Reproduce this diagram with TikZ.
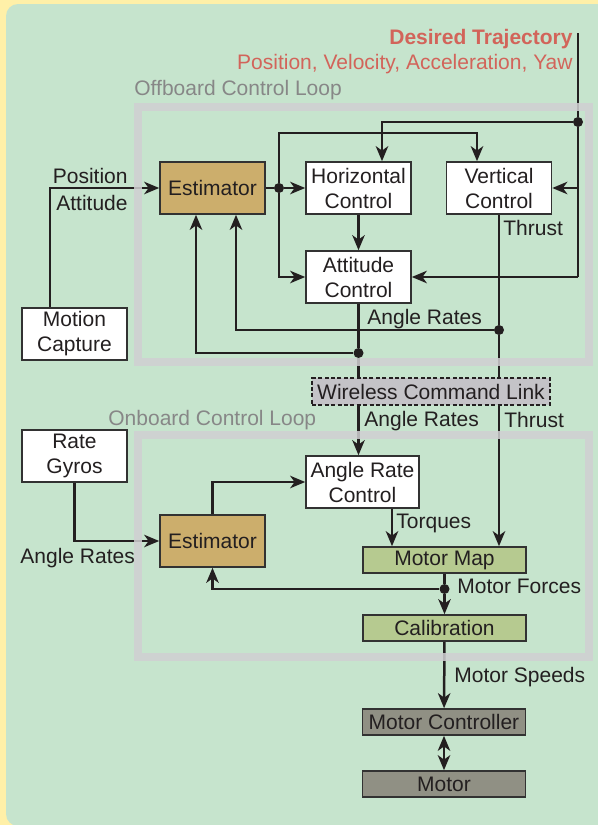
\documentclass[tikz,border=0pt]{standalone}
\usepackage{fontspec}
\setmainfont{Liberation Sans}
\usetikzlibrary{arrows.meta,positioning,calc}

\definecolor{bgyellow}{RGB}{255,240,168}
\definecolor{bggreen}{RGB}{198,228,205}
\definecolor{loopgray}{RGB}{208,208,210}
\definecolor{loophead}{RGB}{135,135,135}
\definecolor{ink}{RGB}{35,31,32}
\definecolor{edge}{RGB}{50,50,50}
\definecolor{esttan}{RGB}{204,174,108}
\definecolor{mapgreen}{RGB}{182,202,144}
\definecolor{linkgray}{RGB}{196,195,199}
\definecolor{motgray}{RGB}{144,144,132}
\definecolor{trajred}{RGB}{210,100,90}

\begin{document}
\begin{tikzpicture}[
  x=0.5pt, y=-0.5pt,
  >={Stealth[length=7.5pt,width=6.2pt,inset=2.2pt]},
  txt/.style={font=\fontsize{10.5}{12.5}\selectfont, text=ink},
  block/.style={txt, draw=edge, line width=0.8pt, fill=white, minimum width=52.5pt,
              minimum height=26pt, align=center, inner sep=1pt},
  estim/.style={block, fill=esttan},
  wide/.style={txt, draw=edge, line width=0.8pt, minimum width=81.5pt,
              minimum height=13pt, inner sep=0pt},
  radio/.style={txt, draw=ink, dash pattern=on 2pt off 1.2pt, line width=0.7pt,
              fill=linkgray, minimum width=119pt, minimum height=13.5pt, inner sep=0pt},
  arr/.style={->, line width=1.25pt, draw=ink},
  wire/.style={line width=1.25pt, draw=ink},
  loopbox/.style={draw=loopgray, line width=4pt, opacity=0.85},
  lbl/.style={txt, inner sep=0pt},
  junction/.style={circle, fill=ink, inner sep=0pt, minimum size=5pt},
]

% === Background ===
\useasboundingbox (0,0) rectangle (598,825);
\fill[bgyellow] (0,0) rectangle (598,825);
\fill[bggreen, rounded corners=6pt] (6,4) rectangle (640,826);

% === Offboard control loop ===
\node[lbl, text=loophead, anchor=base west] (offlbl) at (134,95) {Offboard Control Loop};
\node[lbl, text=trajred, anchor=base east] (des) at (573,44) {\bfseries Desired Trajectory};
\node[lbl, text=trajred, anchor=base east] (pvay) at (573,69) {Position, Velocity, Acceleration, Yaw};

\node[estim] (est) at (212.5,188) {Estimator};
\node[block] (hc) at (358.5,188) {Horizontal\\Control};
\node[block] (vc) at (499,188) {Vertical\\Control};
\node[block] (att) at (358.5,277) {Attitude\\Control};
\node[block] (mocap) at (74.5,334) {Motion\\Capture};

\coordinate (tin) at (578,33);
\node[junction] (tdot) at (578,122) {};
\node[junction] (edot) at (279,188) {};
\node[junction] (vdot) at (499,330) {};
\node[junction] (adot) at (358.5,353) {};

\node[radio] (link) at (431,391.5) {Wireless Command Link};

% labels on the lines
\node[lbl, anchor=base east] (posl) at (128,183) {Position};
\node[lbl, anchor=base east] (attl) at (128,210) {Attitude};
\node[lbl, anchor=base west] (thr1) at (503,235) {Thrust};
\node[lbl, anchor=base west] (ar1) at (367,324) {Angle Rates};
\node[lbl, anchor=base west] (ar2) at (364,426) {Angle Rates};
\node[lbl, anchor=base west] (thr2) at (504,427) {Thrust};

% Arrows
\draw[wire] (tin) -- (tdot);
\draw[wire] (tdot) -- (tdot |- att.east);
\draw[arr] (tdot) -| ($(hc.north)+(23.5,0)$);
\draw[arr] (tdot |- vc.east) -- (vc.east);
\draw[arr] (tdot |- att.east) -- (att.east);
\draw[wire] (est.east) -- (edot);
\draw[arr] (edot) -- (hc.west);
\draw[arr] (edot) |- (att.west);
\draw[arr] (edot) -- ++(0,-55) -| ($(vc.north)+(-22,0)$);
\draw[arr] (hc) -- (att);
\draw[arr] ($(mocap.north)+(-24.5,0)$) |- (est.west);
\draw[wire] (att) -- (adot);
\draw[arr] (adot) -| ($(est.south)+(-16.5,0)$);
\draw[wire] (vc) -- (vdot);
\draw[arr] (vdot) -| ($(est.south)+(23.5,0)$);
\draw[wire] (adot) -- (adot |- link.north);
\draw[wire] (vdot) -- (vdot |- link.north);

% === Onboard control loop ===
\node[lbl, text=loophead, anchor=base west] (onlbl) at (108,425) {Onboard Control Loop};

\node[block] (rg) at (74.5,456) {Rate\\Gyros};
\node[estim] (est2) at (212.5,541) {Estimator};
\node[block, minimum width=56.5pt] (arc) at (362.5,482) {Angle Rate\\Control};
\node[wide, fill=mapgreen] (mm) at (444.5,560) {Motor Map};
\node[wide, fill=mapgreen] (cal) at (444.5,628) {Calibration};
\node[wide, fill=motgray] (mc) at (444,722) {Motor Controller};
\node[wide, fill=motgray] (mot) at (444,784) {Motor};
\node[junction] (mdot) at (444.5,589) {};
\coordinate (arcout) at ($(arc.south)+(29.5,0)$);

\node[lbl, anchor=base west] (ar3) at (20,563) {Angle Rates};
\node[lbl, anchor=base west] (torq) at (396,528) {Torques};
\node[lbl, anchor=base west] (mforce) at (457,593) {Motor Forces};
\node[lbl, anchor=base west] (mspeed) at (454,682) {Motor Speeds};

% Arrows
\draw[arr] (adot |- link.south) -- (adot |- arc.north);
\draw[arr] (vdot |- link.south) -- (vdot |- mm.north);
\draw[arr] (rg) |- (est2);
\draw[arr] (est2) |- (arc);
\draw[arr] (arcout) -- (arcout |- mm.north);
\draw[wire] (mm) -- (mdot);
\draw[arr] (mdot) -- (cal);
\draw[arr] (mdot) -| (est2);
\draw[arr] (cal) -- (mc);
\draw[arr, <->] (mc) -- (mot);

% loop frames on top
\draw[loopbox] (138,107) rectangle (589,362);
\draw[loopbox] (138,435) rectangle (589,657);

\end{tikzpicture}
\end{document}
